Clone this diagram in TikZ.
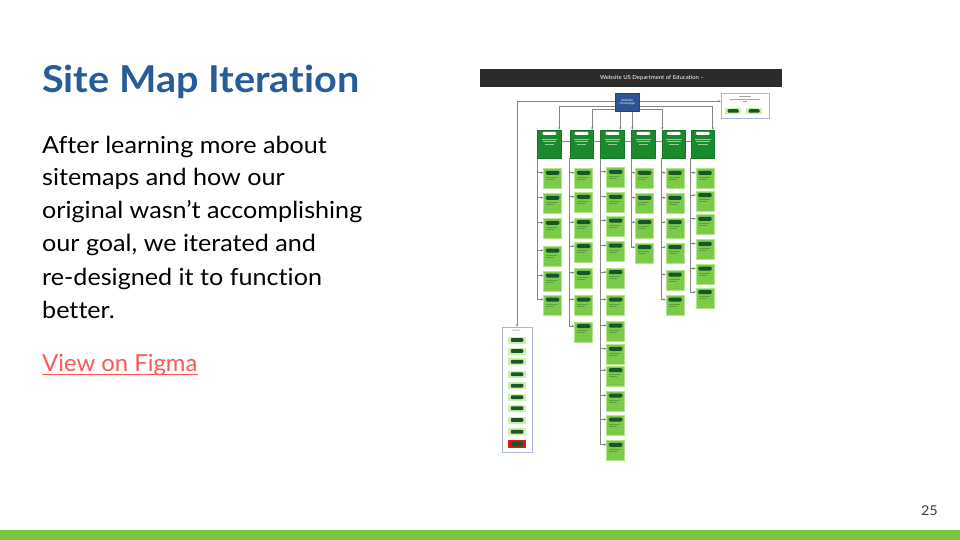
\documentclass[tikz,border=0pt]{standalone}
\usepackage{fontspec}
\setmainfont{Lato}[FakeStretch=1.07, Ligatures=NoCommon]
\newfontfamily\linkfont{Lato}[FakeStretch=1.015, Ligatures=NoCommon]
\usetikzlibrary{arrows.meta,backgrounds}

\definecolor{titleblue}{HTML}{285C98}
\definecolor{linkred}{HTML}{FF5757}
\definecolor{pagegray}{HTML}{3C3C3C}
\definecolor{barGreen}{HTML}{7AC73E}
\definecolor{hdrdark}{HTML}{2B2B2B}
\definecolor{homeblue}{HTML}{2E5496}
\definecolor{catgreen}{HTML}{1C8A2C}
\definecolor{leafgreen}{HTML}{7CCB48}
\definecolor{leafedge}{HTML}{B4E58C}
\definecolor{pilldark}{HTML}{17552A}
\definecolor{wire}{HTML}{858585}
\definecolor{utiledge}{HTML}{A9B7D6}
\definecolor{paleleaf}{HTML}{CFF0A8}
\definecolor{alertred}{HTML}{E3161C}

\begin{document}
\begin{tikzpicture}[x=1pt,y=-1pt,
  arr/.style={draw=wire, line width=0.9pt, -{Stealth[length=2.4pt,width=2.4pt]}},
  plainwire/.style={draw=wire, line width=0.9pt},
  catbox/.style={anchor=north west, minimum width=23.7pt, minimum height=28.3pt,
    inner sep=0pt, fill=catgreen, draw=catgreen!85!black, line width=0.4pt,
    path picture={
      \fill[white, rounded corners=1pt]
        ([xshift=5pt,yshift=-2pt]path picture bounding box.north west)
        rectangle ([xshift=-5pt,yshift=-5pt]path picture bounding box.north east);
      \draw[white, opacity=.55, line width=0.5pt]
        ([xshift=4pt,yshift=-9pt]path picture bounding box.north west) -- ++(15.7pt,0pt)
        ([xshift=5pt,yshift=-11.5pt]path picture bounding box.north west) -- ++(13.7pt,0pt)
        ([xshift=7pt,yshift=-14pt]path picture bounding box.north west) -- ++(9.7pt,0pt);
    }},
  leafbox/.style={anchor=north west, minimum width=18pt, minimum height=20pt,
    inner sep=0pt, fill=leafgreen, draw=leafedge, line width=0.6pt,
    path picture={
      \fill[pilldark, rounded corners=1.2pt]
        ([xshift=2.3pt,yshift=-2.2pt]path picture bounding box.north west)
        rectangle ([xshift=-2.3pt,yshift=-6.2pt]path picture bounding box.north east);
      \draw[pilldark, opacity=.35, line width=0.5pt]
        ([xshift=2.5pt,yshift=-8.5pt]path picture bounding box.north west) -- ++(11pt,0pt)
        ([xshift=2.5pt,yshift=-10.5pt]path picture bounding box.north west) -- ++(8pt,0pt);
    }},
  fitem/.style={minimum width=17.5pt, minimum height=7pt, inner sep=0pt,
    fill=paleleaf,
    path picture={
      \fill[pilldark, rounded corners=1pt]
        ([xshift=2.5pt,yshift=1.6pt]path picture bounding box.south west)
        rectangle ([xshift=-2.5pt,yshift=-1.6pt]path picture bounding box.north east);
    }},
  bodytext/.style={anchor=base west, inner sep=0pt, font=\fontsize{23.5}{28}\selectfont}
]
\useasboundingbox (0,0) rectangle (960,540);
\begin{pgfonlayer}{background}
  \fill[white] (0,0) rectangle (960,540);
\end{pgfonlayer}

% ---------- slide text ----------
\node[anchor=base west, inner sep=0pt, text=titleblue,
      font=\bfseries\fontsize{37}{44}\selectfont] (title) at (42,92.7) {Site Map Iteration};
\node[bodytext] (l1) at (42,153.3) {After learning more about};
\node[bodytext] (l2) at (42,185.9) {sitemaps and how our};
\node[bodytext] (l3) at (42,218.5) {original wasn’t accomplishing};
\node[bodytext] (l4) at (42,251.7) {our goal, we iterated and};
\node[bodytext] (l5) at (42,285.0) {re-designed it to function};
\node[bodytext] (l6) at (42,318.3) {better.};
\node[bodytext, text=linkred, font=\linkfont\fontsize{23.5}{28}\selectfont] (link) at (42,371.7) {View on Figma};
\draw[linkred, line width=1.3pt] ([yshift=-3pt]link.base west) -- ([yshift=-3pt]link.base east);

\node[anchor=base east, inner sep=0pt, text=pagegray,
      font=\fontsize{13.5}{16}\selectfont] (pnum) at (938,515.7) {25};
\fill[barGreen] (0,529.5) rectangle (960,540);

% ---------- site map ----------
\node[anchor=north west, inner sep=0pt, fill=hdrdark, minimum width=301.6pt,
      minimum height=17.4pt] (hdr) at (479.7,69.3) {};
\node[text=white, inner sep=0pt, font=\fontsize{5.6}{6}\selectfont] (hdrtext) at (652,78)
  {Website US Department of Education –};

\node[anchor=north west, inner sep=0pt, fill=homeblue, draw=homeblue!80!black,
      line width=0.4pt, minimum width=24pt, minimum height=18pt, text=white,
      align=center, font=\fontsize{3}{3.6}\selectfont] (home) at (615,93) {Website\\Homepage};

\node[anchor=north west, inner sep=0pt, fill=white, draw=utiledge, line width=0.9pt,
      minimum width=48.3pt, minimum height=25pt] (util) at (720.7,93) {};
\draw[gray!70, line width=0.5pt]
  ([xshift=-6pt,yshift=-3.5pt]util.north) -- ++(12pt,0pt)
  ([xshift=-15pt,yshift=-6pt]util.north) -- ++(30pt,0pt)
  ([xshift=-2pt,yshift=-8.5pt]util.north) -- ++(4pt,0pt);
\node[fitem, minimum width=16pt, minimum height=6.7pt] (u1) at (733,111) {};
\node[fitem, minimum width=16pt, minimum height=6.7pt] (u2) at (754,111) {};

% categories and their pages
\foreach \c/\cx/\kx/\tops in {
    1/537.3/543.3/{168.3,193.3,218.3,246,271,295},
    2/569.5/574.3/{168.3,192.3,217.7,241.7,268.3,295,321.7},
    3/600.3/606.3/{167.3,192.3,216,241,267.7,295,321,344.3,365.7,391,415,440.3},
    4/631.3/635.3/{168.3,193.3,217.7,242.7},
    5/661.7/665.7/{168.3,193.3,217.7,242.7,270,295},
    6/690.7/695.7/{168.3,190.7,214.3,239.3,264,287.7}} {
  \node[catbox] (c\c) at (\cx,129.7) {};
  \foreach \t [count=\k] in \tops {
    \node[leafbox] (c\c-\k) at (\kx,\t) {};
    \begin{pgfonlayer}{background}
      \draw[arr] (c\c.south west) |- ([yshift=-4.4pt]c\c-\k.north west);
    \end{pgfonlayer}
  }
}

% footer block
\node[anchor=north west, inner sep=0pt, fill=white, draw=utiledge, line width=0.9pt,
      minimum width=30pt, minimum height=125pt] (footer) at (501.5,326.7) {};
\node[inner sep=0pt, text=gray, font=\fontsize{2.6}{3}\selectfont] (ftitle) at (516.5,330.8) {Footer};
\foreach \yy [count=\i] in {340,351,361.7,374.3,385.7,397.3,408.3,420,431.7} {
  \node[fitem] (f\i) at (517,\yy) {};
}
\node[fitem, fill=alertred, minimum height=8pt] (f10) at (517,444) {};

% connectors
\coordinate (busA) at (627,106.3);
\coordinate (busB) at (627,109.7);
\begin{pgfonlayer}{background}
  \draw[arr] (home.west |- 0,101.3) -| (footer.north);
  \draw[arr] (home.east |- 0,101.3) -- (util.west |- 0,101.3);
  \draw[arr] (busA) -| ([xshift=-2.2pt]c1.north east);
  \draw[arr] (busA) -| ([xshift=-2pt]c6.north east);
  \draw[arr] (busB) -| ([xshift=-1.3pt]c2.north east);
  \draw[arr] (busB) -| ([xshift=0.6pt]c5.north west);
  \draw[arr] ([xshift=-4.3pt]c3.north east |- home.south) -- ([xshift=-4.3pt]c3.north east);
  \draw[arr] ([xshift=1pt]c4.north west |- home.south) -- ([xshift=1pt]c4.north west);
  \draw[plainwire] (c1.east |- 0,141.3) -- (c6.west |- 0,141.3);
\end{pgfonlayer}
\end{tikzpicture}
\end{document}
